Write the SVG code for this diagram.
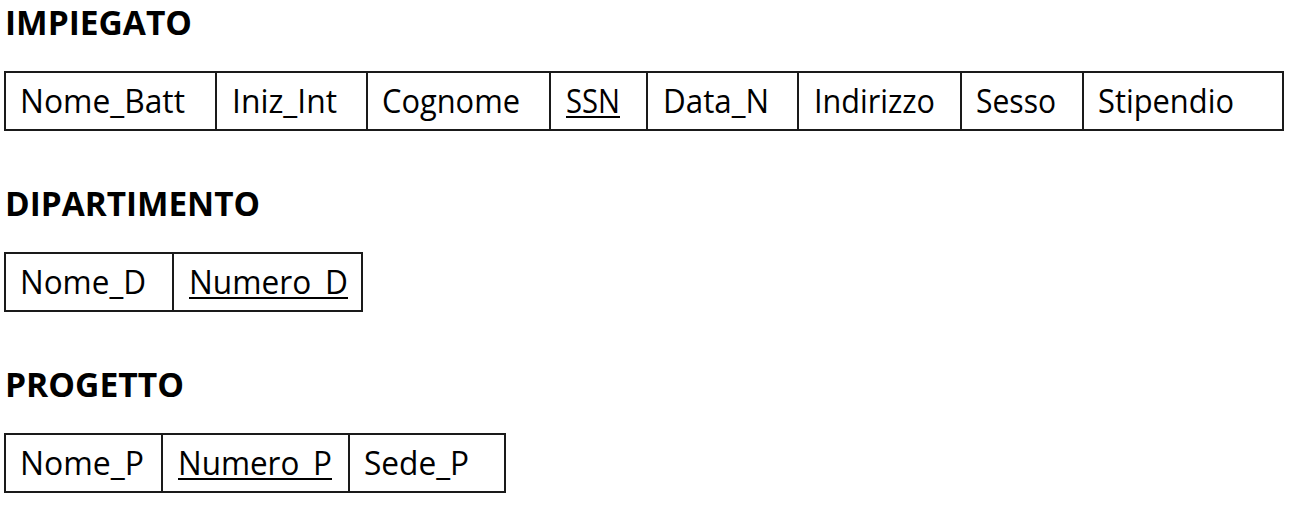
<svg xmlns="http://www.w3.org/2000/svg" width="1308" height="526" viewBox="0 0 1308 526">
  <style>
    .title { font-family: "Open Sans", "Noto Sans", "Liberation Sans", sans-serif; font-weight: 700; font-size: 34px; fill: #000; }
    .attr { font-family: "Open Sans", "Noto Sans", "Liberation Sans", sans-serif; font-weight: 400; font-size: 33px; fill: #000; }
    .box { fill: #fff; stroke: #1a1a1a; stroke-width: 2; }
    .div { stroke: #1a1a1a; stroke-width: 2; }
    .ul { stroke: #000; stroke-width: 2; }
  </style>
  <rect width="1308" height="526" fill="#fff"/>

  <g id="impiegato">
    <text class="title" x="5" y="35" textLength="187" lengthAdjust="spacingAndGlyphs">IMPIEGATO</text>
    <rect class="box" x="5" y="72" width="1278" height="58"/>
    <line class="div" x1="216" y1="72" x2="216" y2="130"/>
    <line class="div" x1="367" y1="72" x2="367" y2="130"/>
    <line class="div" x1="550" y1="72" x2="550" y2="130"/>
    <line class="div" x1="647" y1="72" x2="647" y2="130"/>
    <line class="div" x1="798" y1="72" x2="798" y2="130"/>
    <line class="div" x1="961" y1="72" x2="961" y2="130"/>
    <line class="div" x1="1083" y1="72" x2="1083" y2="130"/>
    <text class="attr" x="20" y="113" textLength="165" lengthAdjust="spacingAndGlyphs">Nome_Batt</text>
    <text class="attr" x="232" y="113" textLength="105" lengthAdjust="spacingAndGlyphs">Iniz_Int</text>
    <text class="attr" x="382" y="113" textLength="138" lengthAdjust="spacingAndGlyphs">Cognome</text>
    <text class="attr" x="566" y="113" textLength="54" lengthAdjust="spacingAndGlyphs">SSN</text>
    <line class="ul" x1="566" y1="117" x2="620" y2="117"/>
    <text class="attr" x="663" y="113" textLength="106" lengthAdjust="spacingAndGlyphs">Data_N</text>
    <text class="attr" x="814" y="113" textLength="121" lengthAdjust="spacingAndGlyphs">Indirizzo</text>
    <text class="attr" x="976" y="113" textLength="80" lengthAdjust="spacingAndGlyphs">Sesso</text>
    <text class="attr" x="1098" y="113" textLength="136" lengthAdjust="spacingAndGlyphs">Stipendio</text>
  </g>

  <g id="dipartimento">
    <text class="title" x="5" y="216" textLength="255" lengthAdjust="spacingAndGlyphs">DIPARTIMENTO</text>
    <rect class="box" x="5" y="253" width="357" height="58"/>
    <line class="div" x1="173" y1="253" x2="173" y2="311"/>
    <text class="attr" x="20" y="294" textLength="126" lengthAdjust="spacingAndGlyphs">Nome_D</text>
    <text class="attr" x="189" y="294" textLength="159" lengthAdjust="spacingAndGlyphs">Numero_D</text>
    <line class="ul" x1="189" y1="298" x2="348" y2="298"/>
  </g>

  <g id="progetto">
    <text class="title" x="5" y="397" textLength="179" lengthAdjust="spacingAndGlyphs">PROGETTO</text>
    <rect class="box" x="5" y="434" width="500" height="58"/>
    <line class="div" x1="162" y1="434" x2="162" y2="492"/>
    <line class="div" x1="349" y1="434" x2="349" y2="492"/>
    <text class="attr" x="20" y="475" textLength="124" lengthAdjust="spacingAndGlyphs">Nome_P</text>
    <text class="attr" x="178" y="475" textLength="154" lengthAdjust="spacingAndGlyphs">Numero_P</text>
    <line class="ul" x1="178" y1="479" x2="332" y2="479"/>
    <text class="attr" x="364" y="475" textLength="105" lengthAdjust="spacingAndGlyphs">Sede_P</text>
  </g>
</svg>
